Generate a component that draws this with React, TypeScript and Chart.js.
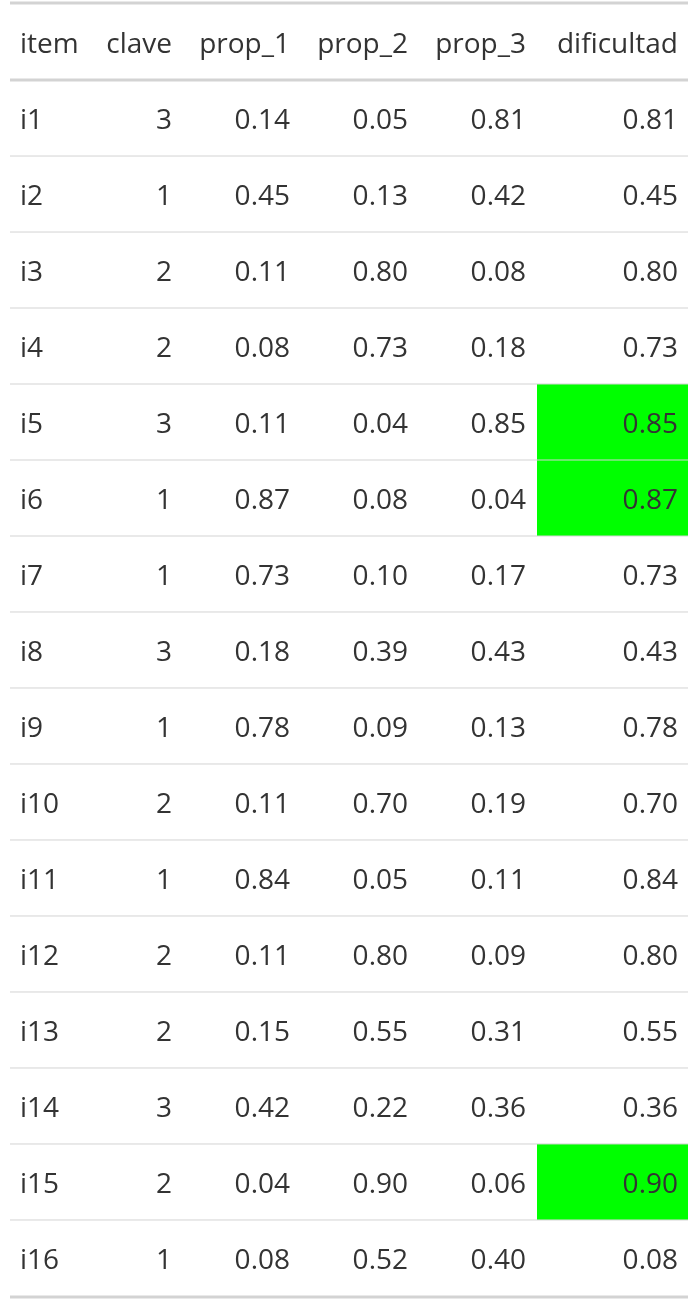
import { useEffect, useRef } from 'react';
import { Chart, registerables } from 'chart.js';

Chart.register(...registerables);

const headers = ['item', 'clave', 'prop_1', 'prop_2', 'prop_3', 'dificultad'];
const items = ['i1', 'i2', 'i3', 'i4', 'i5', 'i6', 'i7', 'i8', 'i9', 'i10', 'i11', 'i12', 'i13', 'i14', 'i15', 'i16'];
const clave = [3, 1, 2, 2, 3, 1, 1, 3, 1, 2, 1, 2, 2, 3, 2, 1];
const prop1 = [0.14, 0.45, 0.11, 0.08, 0.11, 0.87, 0.73, 0.18, 0.78, 0.11, 0.84, 0.11, 0.15, 0.42, 0.04, 0.08];
const prop2 = [0.05, 0.13, 0.80, 0.73, 0.04, 0.08, 0.10, 0.39, 0.09, 0.70, 0.05, 0.80, 0.55, 0.22, 0.90, 0.52];
const prop3 = [0.81, 0.42, 0.08, 0.18, 0.85, 0.04, 0.17, 0.43, 0.13, 0.19, 0.11, 0.09, 0.31, 0.36, 0.06, 0.40];
const dificultad = [0.81, 0.45, 0.80, 0.73, 0.85, 0.87, 0.73, 0.43, 0.78, 0.70, 0.84, 0.80, 0.55, 0.36, 0.90, 0.08];

// layout (x in pixels on a 0..698 linear scale)
const colAnchor = [20, 172, 290, 408, 526, 678];
const colLeft = [10, 90, 180, 300, 418, 537];
const tableLeft = 10;
const tableRight = 688;

const App = () => {
  const ref = useRef<HTMLCanvasElement | null>(null);

  useEffect(() => {
    document.body.style.margin = '0';
    const ctx = ref.current?.getContext('2d');
    if (!ctx) return;

    const tablePlugin = {
      id: 'table',
      afterDraw(chart: any) {
        const c = chart.ctx;
        const xs = chart.scales.x;
        const ys = chart.scales.y;
        const X = (v: number) => xs.getPixelForValue(v);
        const Y = (v: number) => ys.getPixelForValue(v);
        c.save();
        // highlights
        dificultad.forEach((d, r) => {
          if (d >= 0.85) {
            c.fillStyle = '#00ff00';
            c.fillRect(X(colLeft[5]), Y(r - 0.5), X(tableRight) - X(colLeft[5]), Y(r + 0.5) - Y(r - 0.5));
          }
        });
        // lines
        const hline = (y: number, w: number, col: string) => {
          c.strokeStyle = col;
          c.lineWidth = w;
          c.beginPath();
          c.moveTo(X(tableLeft), y);
          c.lineTo(X(tableRight), y);
          c.stroke();
        };
        hline(Y(-1.5) - 1, 3, '#d3d3d3');
        for (let r = 0; r < items.length - 1; r++) hline(Y(r + 0.5), 1, '#d3d3d3');
        hline(Y(-0.5), 3, '#d3d3d3');
        hline(Y(items.length - 0.5) + 1, 3, '#d3d3d3');
        // text
        c.font = '28px "Open Sans", "Noto Sans", sans-serif';
        c.textBaseline = 'middle';
        c.fillStyle = '#333333';
        headers.forEach((h, i) => {
          c.textAlign = i === 0 ? 'left' : 'right';
          c.fillText(h, X(colAnchor[i]), Y(-1) + 3);
        });
        items.forEach((it, r) => {
          const y = Y(r) + 3;
          const vals = [it, String(clave[r]), prop1[r].toFixed(2), prop2[r].toFixed(2), prop3[r].toFixed(2), dificultad[r].toFixed(2)];
          vals.forEach((v, i) => {
            c.textAlign = i === 0 ? 'left' : 'right';
            c.fillText(v, X(colAnchor[i]), y);
          });
        });
        c.restore();
      },
    };

    const chart = new Chart(ctx, {
      type: 'scatter',
      data: { datasets: [{ data: [], pointRadius: 0 }] },
      options: {
        animation: false,
        responsive: false,
        layout: { padding: 0 },
        plugins: { legend: { display: false }, tooltip: { enabled: false } },
        scales: {
          x: { type: 'linear', min: 0, max: 698, display: false },
          y: { type: 'linear', min: -1.553, max: 15.632, reverse: true, display: false },
        },
      },
      plugins: [tablePlugin],
    });
    return () => chart.destroy();
  }, []);

  return <canvas ref={ref} width={698} height={1306} style={{ display: 'block', background: '#fff' }} />;
};

export default App;
